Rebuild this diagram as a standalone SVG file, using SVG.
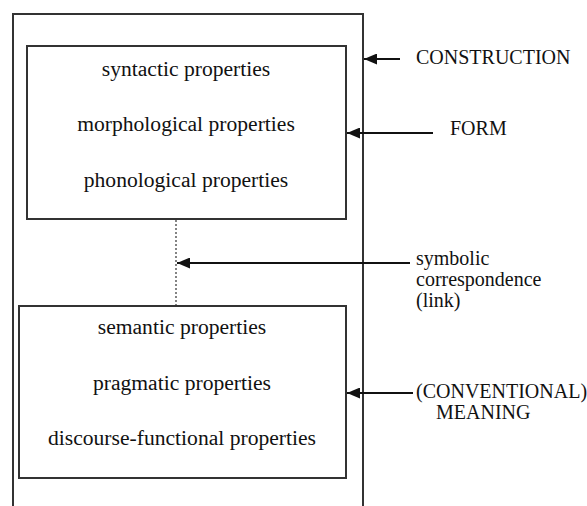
<svg xmlns="http://www.w3.org/2000/svg" width="587" height="506" viewBox="0 0 587 506">
<style>
.box{fill:none;stroke:#333;stroke-width:2}
.t{font-family:"Liberation Serif","Times New Roman",serif;font-size:21.6px;fill:#111}
.l{font-family:"Liberation Serif","Times New Roman",serif;font-size:20px;fill:#111}
.c{text-anchor:middle}
.ln{stroke:#111;stroke-width:2;fill:none}
</style>
<defs>
<marker id="ah" markerWidth="13" markerHeight="11" refX="13" refY="5.5" orient="auto" markerUnits="userSpaceOnUse">
<path d="M0,0 L13,5.5 L0,11 Z" fill="#111"/>
</marker>
</defs>
<rect width="587" height="506" fill="#fff"/>
<g id="construction">
<path class="box" d="M13,506 V14 H363 V506"/>
</g>
<g id="form">
<rect class="box" x="27" y="46" width="319" height="173"/>
<text class="t c" x="186" y="76">syntactic properties</text>
<text class="t c" x="186" y="131">morphological properties</text>
<text class="t c" x="186" y="187">phonological properties</text>
</g>
<g id="meaning">
<rect class="box" x="19" y="306" width="327" height="172"/>
<text class="t c" x="182" y="334">semantic properties</text>
<text class="t c" x="182" y="390">pragmatic properties</text>
<text class="t c" x="182" y="445">discourse-functional properties</text>
</g>
<g id="labels">
<text class="l" x="416" y="64">CONSTRUCTION</text>
<text class="l" x="450" y="135">FORM</text>
<text class="l" x="416" y="265">symbolic</text>
<text class="l" x="416" y="286">correspondence</text>
<text class="l" x="416" y="307">(link)</text>
<text class="l" x="416" y="398">(CONVENTIONAL)</text>
<text class="l" x="436" y="419">MEANING</text>
</g>
<g id="connectors">
<line x1="176" y1="220" x2="176" y2="306" stroke="#333" stroke-width="1.2" stroke-dasharray="2,2"/>
<line class="ln" x1="400" y1="59" x2="364" y2="59" marker-end="url(#ah)"/>
<line class="ln" x1="433" y1="133" x2="347" y2="133" marker-end="url(#ah)"/>
<line class="ln" x1="410" y1="263" x2="177" y2="263" marker-end="url(#ah)"/>
<line class="ln" x1="413" y1="393" x2="347" y2="393" marker-end="url(#ah)"/>
</g>
</svg>
